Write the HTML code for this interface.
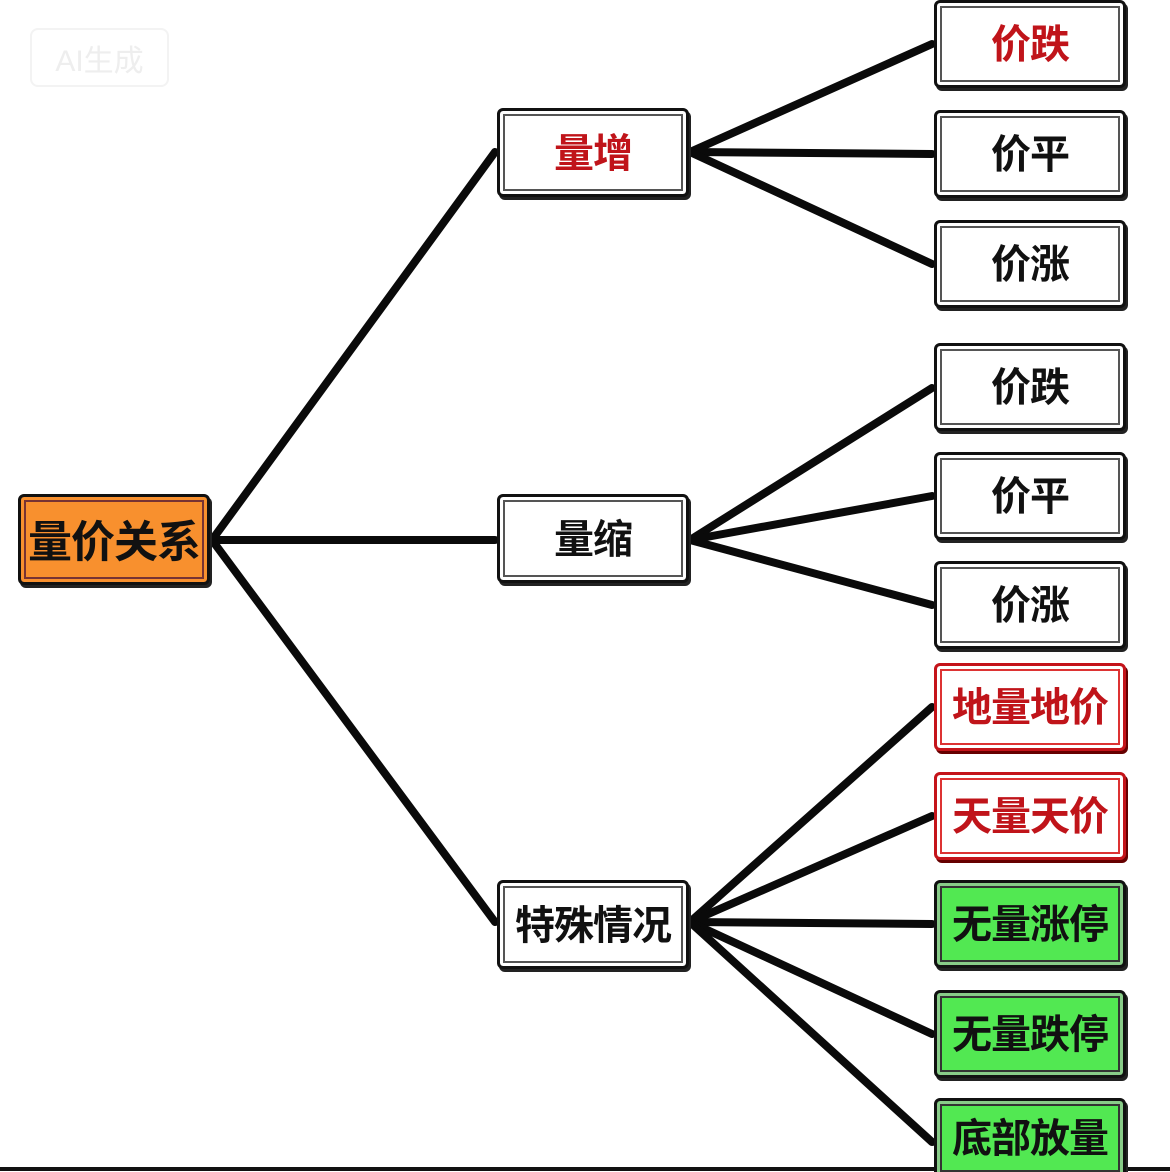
<!DOCTYPE html>
<html><head><meta charset="utf-8"><style>
html,body{margin:0;padding:0;background:#fff;}
#c{position:relative;width:1170px;height:1172px;overflow:hidden;background:#fff;font-family:"Liberation Sans","Noto Sans CJK SC",sans-serif;}
.b{position:absolute;box-sizing:border-box;border:3px solid #111;border-radius:6px;background:#fff;box-shadow:2px 3px 0 #222, inset 0 0 0 3px #fff, inset 0 0 0 5px #555;display:flex;align-items:center;justify-content:center;font-weight:bold;color:#111;font-size:40px;letter-spacing:-1px;padding-bottom:6px;}
.m{width:192px;height:89px;left:497px;}
.l{width:192px;height:88px;left:934px;}
.r{color:#c0141a;}
.rb{border-color:#c4141a;box-shadow:2px 3px 0 #600, inset 0 0 0 3px #fff, inset 0 0 0 5px #d33;}
.g{background:#52e852;box-shadow:2px 3px 0 #222, inset 0 0 0 3px #8c8, inset 0 0 0 5px #333;}
</style></head><body><div id="c">
<svg width="1170" height="1172" style="position:absolute;left:0;top:0">
<g stroke="#0a0a0a" stroke-width="8" stroke-linecap="round">
<line x1="212" y1="540" x2="495" y2="152"/>
<line x1="212" y1="540" x2="495" y2="540"/>
<line x1="212" y1="540" x2="495" y2="922"/>
<line x1="690" y1="152" x2="932" y2="44"/>
<line x1="690" y1="152" x2="932" y2="154"/>
<line x1="690" y1="152" x2="932" y2="264"/>
<line x1="690" y1="540" x2="932" y2="388"/>
<line x1="690" y1="540" x2="932" y2="496"/>
<line x1="690" y1="540" x2="932" y2="605"/>
<line x1="690" y1="922" x2="932" y2="707"/>
<line x1="690" y1="922" x2="932" y2="816"/>
<line x1="690" y1="922" x2="932" y2="924"/>
<line x1="690" y1="922" x2="932" y2="1034"/>
<line x1="690" y1="922" x2="932" y2="1142"/>
</g>
<line x1="0" y1="1169" x2="1170" y2="1169" stroke="#111" stroke-width="4"/>
</svg>
<div style="position:absolute;left:30px;top:28px;width:135px;height:55px;border:2px solid #f3f3f3;border-radius:8px;color:#eee;font-size:30px;display:flex;align-items:center;justify-content:center">AI生成</div>
<div class="b" style="left:18px;top:494px;width:192px;height:91px;background:#f8902e;font-size:44px;padding-bottom:4px;box-shadow:2px 3px 0 #222, inset 0 0 0 3px #f8902e, inset 0 0 0 5px #733;">量价关系</div>
<div class="b m r" style="top:108px">量增</div>
<div class="b m" style="top:494px">量缩</div>
<div class="b m" style="top:880px">特殊情况</div>
<div class="b l r" style="top:0px">价跌</div>
<div class="b l" style="top:110px">价平</div>
<div class="b l" style="top:220px">价涨</div>
<div class="b l" style="top:343px">价跌</div>
<div class="b l" style="top:452px">价平</div>
<div class="b l" style="top:561px">价涨</div>
<div class="b l r rb" style="top:663px">地量地价</div>
<div class="b l r rb" style="top:772px">天量天价</div>
<div class="b l g" style="top:880px">无量涨停</div>
<div class="b l g" style="top:990px">无量跌停</div>
<div class="b l g" style="top:1098px;height:80px">底部放量</div>
</div></body></html>
